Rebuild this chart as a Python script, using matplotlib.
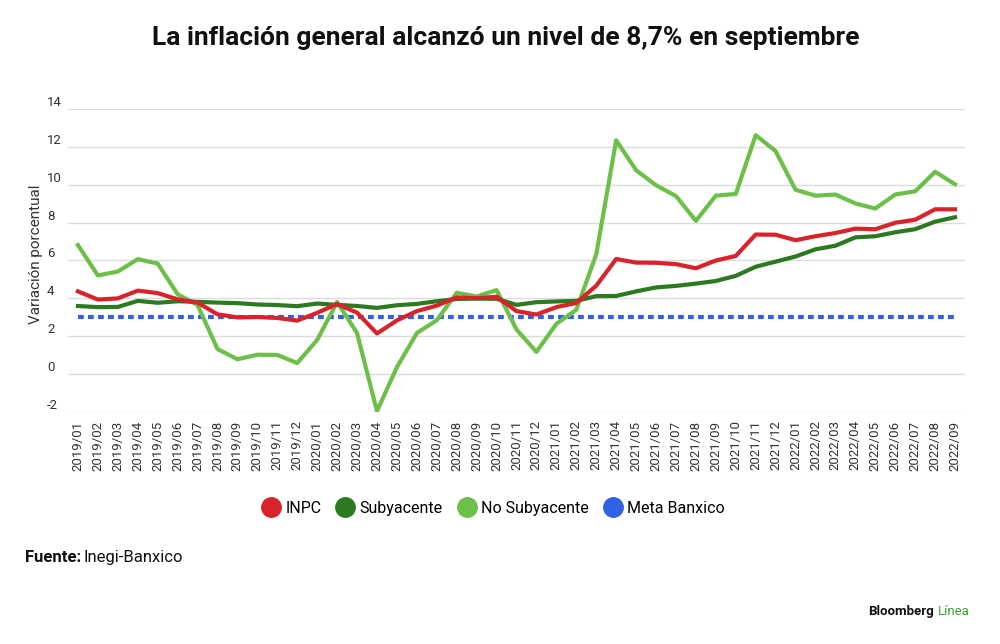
import matplotlib
matplotlib.use("Agg")
import matplotlib.pyplot as plt
from matplotlib.lines import Line2D

plt.rcParams["font.family"] = ["Roboto", "DejaVu Sans"]

months = [f"{y}/{m:02d}" for y in range(2019, 2023) for m in range(1, 13)][:45]

inpc = [4.37, 3.94, 4.00, 4.41, 4.28, 3.95, 3.78, 3.16, 3.00, 3.02, 2.97, 2.83,
        3.24, 3.70, 3.25, 2.15, 2.84, 3.33, 3.62, 4.05, 4.01, 4.09, 3.33, 3.15,
        3.54, 3.76, 4.67, 6.08, 5.89, 5.88, 5.81, 5.59, 6.00, 6.24, 7.37, 7.36,
        7.07, 7.28, 7.45, 7.68, 7.65, 7.99, 8.15, 8.70, 8.70]

subyacente = [3.60, 3.54, 3.55, 3.87, 3.77, 3.85, 3.82, 3.78, 3.75, 3.68, 3.65, 3.59,
              3.73, 3.66, 3.60, 3.50, 3.64, 3.71, 3.85, 3.97, 3.99, 3.98, 3.66, 3.80,
              3.84, 3.87, 4.12, 4.13, 4.37, 4.58, 4.66, 4.78, 4.92, 5.19, 5.67, 5.94,
              6.21, 6.59, 6.78, 7.22, 7.28, 7.49, 7.65, 8.05, 8.28]

no_subyacente = [6.81, 5.21, 5.42, 6.07, 5.84, 4.22, 3.65, 1.33, 0.79, 1.03, 1.02, 0.59,
                 1.81, 3.81, 2.18, -1.95, 0.37, 2.17, 2.85, 4.30, 4.10, 4.44, 2.36, 1.18,
                 2.66, 3.40, 6.32, 12.34, 10.76, 9.97, 9.40, 8.09, 9.42, 9.51, 12.61, 11.77,
                 9.73, 9.42, 9.48, 9.01, 8.74, 9.48, 9.65, 10.68, 10.02]

meta_banxico = [3.0] * len(months)

y_ticks = [-2, 0, 2, 4, 6, 8, 10, 12, 14]

RED = "#d8232a"
DARK_GREEN = "#2b7a1f"
LIGHT_GREEN = "#6cc04a"
BLUE = "#2f63e3"

fig = plt.figure(figsize=(10, 6.44), dpi=100)
ax = fig.add_axes([0.068, 0.360, 0.897, 0.471])

x = list(range(len(months)))
ax.plot(x, meta_banxico, color=BLUE, lw=3, dashes=(1.4, 1.0), zorder=2)
ax.plot(x, no_subyacente, color=LIGHT_GREEN, lw=3, zorder=3)
ax.plot(x, subyacente, color=DARK_GREEN, lw=3, zorder=4)
ax.plot(x, inpc, color=RED, lw=3, zorder=5)

ax.set_xlim(-0.5, len(months) - 0.5)
ax.set_ylim(-2, 14)
ax.set_yticks(y_ticks)
ax.set_yticklabels([str(v) for v in y_ticks])
ax.grid(axis="y", color="#dcdcdc", lw=1)
ax.set_axisbelow(True)
for s in ax.spines.values():
    s.set_visible(False)

ax.set_xticks(x)
ax.set_xticklabels(months, rotation=90, fontsize=9.5, color="#333333")
ax.tick_params(axis="x", length=0, pad=6)
ax.tick_params(axis="y", length=0, pad=15, labelsize=9.5, labelcolor="#333333")
for lab in ax.get_yticklabels():
    lab.set_horizontalalignment("left")
    lab.set_verticalalignment("bottom")

ax.set_ylabel("Variación porcentual", fontsize=11, color="#333333")
ax.yaxis.set_label_coords(-0.028, 0.52)

fig.text(0.506, 0.941, "La inflación general alcanzó un nivel de 8,7% en septiembre",
         ha="center", va="center", fontsize=19, fontweight="bold", color="#111111")

handles = [Line2D([], [], ls="none", marker="o", markersize=14, color=c)
           for c in (RED, DARK_GREEN, LIGHT_GREEN, BLUE)]
fig.legend(handles, ["INPC", "Subyacente", "No Subyacente", "Meta Banxico"],
           loc="center", bbox_to_anchor=(0.493, 0.211), ncol=4, frameon=False,
           fontsize=11.5, handletextpad=0.3, columnspacing=0.9, handlelength=1.2)

renderer = fig.canvas.get_renderer()
t1 = fig.text(0.025, 0.135, "Fuente:", ha="left", va="center", fontsize=12,
              fontweight="bold", color="#111111")
bb = t1.get_window_extent(renderer).transformed(fig.transFigure.inverted())
fig.text(bb.x1 + 0.002, 0.135, "Inegi-Banxico", ha="left", va="center",
         fontsize=12, color="#111111")

t2 = fig.text(0.970, 0.050, "Línea", ha="right", va="center", fontsize=9.5,
              color="#3aa335")
bb2 = t2.get_window_extent(renderer).transformed(fig.transFigure.inverted())
fig.text(bb2.x0 - 0.004, 0.050, "Bloomberg", ha="right", va="center",
         fontsize=9.5, fontweight="bold", color="#111111")

fig.savefig("out.png", dpi=100)
